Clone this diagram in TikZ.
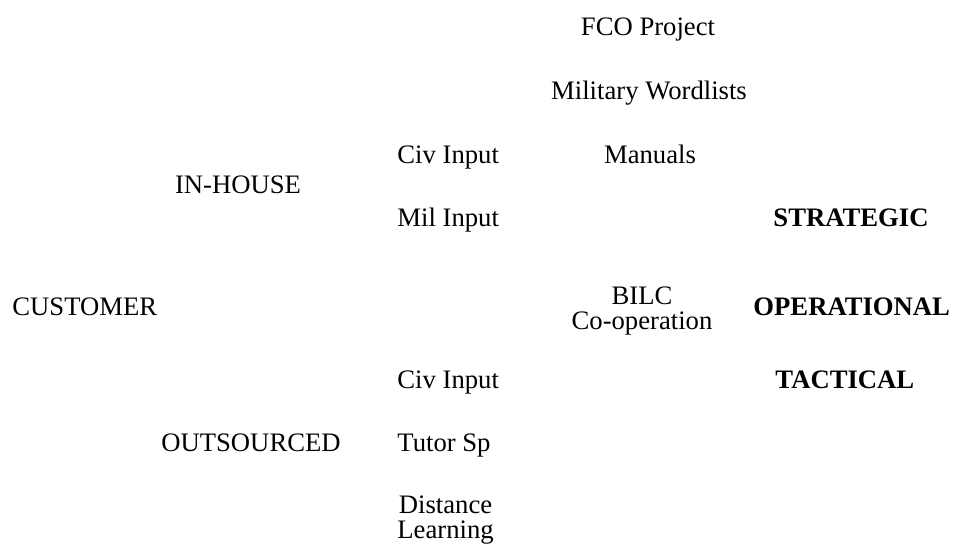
\documentclass[tikz,border=0pt]{standalone}
\usepackage{fontspec}
\setmainfont{Liberation Serif}
\begin{document}
\begin{tikzpicture}[x=0.45pt,y=-0.45pt,
  lbl/.style={font=\fontsize{12}{11}\selectfont,inner sep=0pt,align=center,anchor=base},
  lvl/.style={lbl,font=\fontsize{12}{11}\selectfont\bfseries,anchor=base west}]
\useasboundingbox (0,0) rectangle (955,555);
% customer side
\node[lbl,anchor=base west] (customer) at (12,315) {CUSTOMER};
\node[lbl] (inhouse) at (238,193) {IN-HOUSE};
\node[lbl] (outsourced) at (251,451) {OUTSOURCED};
% inputs
\node[lbl,anchor=base west] (civtop) at (397,163) {Civ Input};
\node[lbl,anchor=base west] (mil) at (397,226) {Mil Input};
\node[lbl,anchor=base west] (civbot) at (397,388) {Civ Input};
\node[lbl,anchor=base west] (tutor) at (397,451) {Tutor Sp};
\node[lbl,anchor=base west] (distance) at (397,538) {Distance\\Learning};
% projects
\node[lbl] (fco) at (648,35) {FCO Project};
\node[lbl] (wordlists) at (649,99) {Military Wordlists};
\node[lbl] (manuals) at (650,163) {Manuals};
\node[lbl] (bilc) at (642,329) {BILC\\Co-operation};
% levels
\node[lvl] (strategic) at (773,226) {STRATEGIC};
\node[lvl] (operational) at (753,315) {OPERATIONAL};
\node[lvl] (tactical) at (775,388) {TACTICAL};
\end{tikzpicture}
\end{document}
